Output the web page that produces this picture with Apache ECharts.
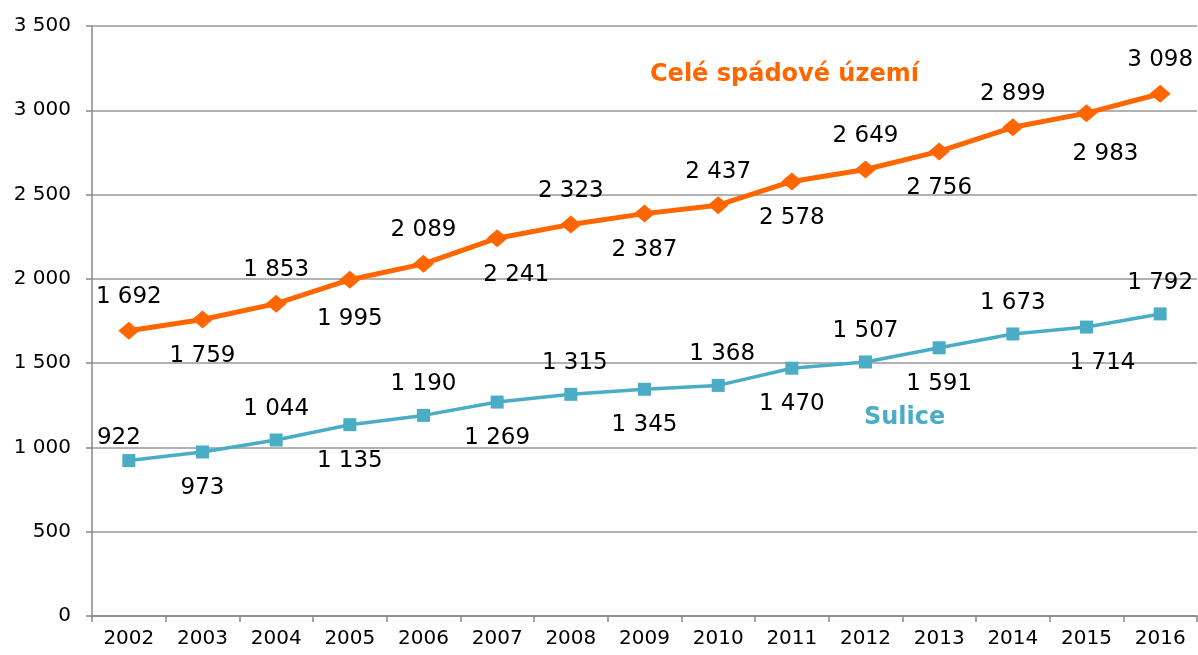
<!DOCTYPE html>
<html><head><meta charset="utf-8">
<script src="https://cdn.jsdelivr.net/npm/echarts@6/dist/echarts.min.js"></script>
<style>html,body{margin:0;padding:0;background:#fff}#c{width:1198px;height:655px}</style>
</head><body><div id="c"></div>
<script>
const years = ['2002','2003','2004','2005','2006','2007','2008','2009','2010','2011','2012','2013','2014','2015','2016'];
const celeName = 'Celé spádové území';
const celeValues = [1692,1759,1853,1995,2089,2241,2323,2387,2437,2578,2649,2756,2899,2983,3098];
const suliceName = 'Sulice';
const suliceValues = [922,973,1044,1135,1190,1269,1315,1345,1368,1470,1507,1591,1673,1714,1792];

const fmt = v => String(v).replace(/\B(?=(\d{3})+(?!\d))/g, ' ');
const FONT = 'DejaVu Sans';
const ORANGE = '#FF6600';
const BLUE = '#4BACC6';

// label shifts for a few points (styling)
const celeShift = {3: [0, 3], 5: [19, 0], 13: [19, 4]};
const suliceShift = {0: [-10, 8], 6: [4, 0], 8: [4, 0], 13: [16, 0], 15: [0, 8]};

function mkData(vals, shifts, distTop, distBottom) {
  return vals.map((v, i) => ({
    value: v,
    label: {
      position: i % 2 === 0 ? 'top' : 'bottom',
      distance: i % 2 === 0 ? distTop : distBottom,
      offset: shifts[i] || [0, 0]
    }
  }));
}

const chart = echarts.init(document.getElementById('c'));
chart.setOption({
  animation: false,
  grid: {left: 92, right: 1, top: 26, bottom: 39},
  xAxis: {
    type: 'category', data: years, boundaryGap: true,
    axisLine: {lineStyle: {color: '#888', width: 1.5}},
    axisTick: {show: true, length: 6, lineStyle: {color: '#888', width: 1.5}},
    axisLabel: {fontFamily: FONT, fontSize: 20, color: '#000', margin: 13}
  },
  yAxis: {
    type: 'value', min: 0, max: 3500, interval: 500,
    axisLine: {show: true, lineStyle: {color: '#888', width: 1.5}},
    axisTick: {show: true, length: 6, lineStyle: {color: '#888', width: 1.5}},
    splitLine: {lineStyle: {color: '#999', width: 1.5}},
    axisLabel: {fontFamily: FONT, fontSize: 20, color: '#000', margin: 21, formatter: fmt}
  },
  graphic: [
    {type: 'text', left: 650, top: 63, style: {text: celeName, fill: ORANGE, font: 'bold 24px "DejaVu Sans"'}},
    {type: 'text', left: 864, top: 406, style: {text: suliceName, fill: BLUE, font: 'bold 24px "DejaVu Sans"'}}
  ],
  series: [
    {
      name: celeName, type: 'line', data: mkData(celeValues, celeShift, 13, 16),
      symbol: 'diamond', symbolSize: [21, 18],
      lineStyle: {color: ORANGE, width: 5}, itemStyle: {color: ORANGE},
      label: {show: true, fontFamily: FONT, fontSize: 23, color: '#000', formatter: p => fmt(p.value)}
    },
    {
      name: suliceName, type: 'line', data: mkData(suliceValues, suliceShift, 13, 18),
      symbol: 'rect', symbolSize: 13,
      lineStyle: {color: BLUE, width: 3.5}, itemStyle: {color: BLUE},
      label: {show: true, fontFamily: FONT, fontSize: 23, color: '#000', formatter: p => fmt(p.value)}
    }
  ]
});
</script></body></html>
